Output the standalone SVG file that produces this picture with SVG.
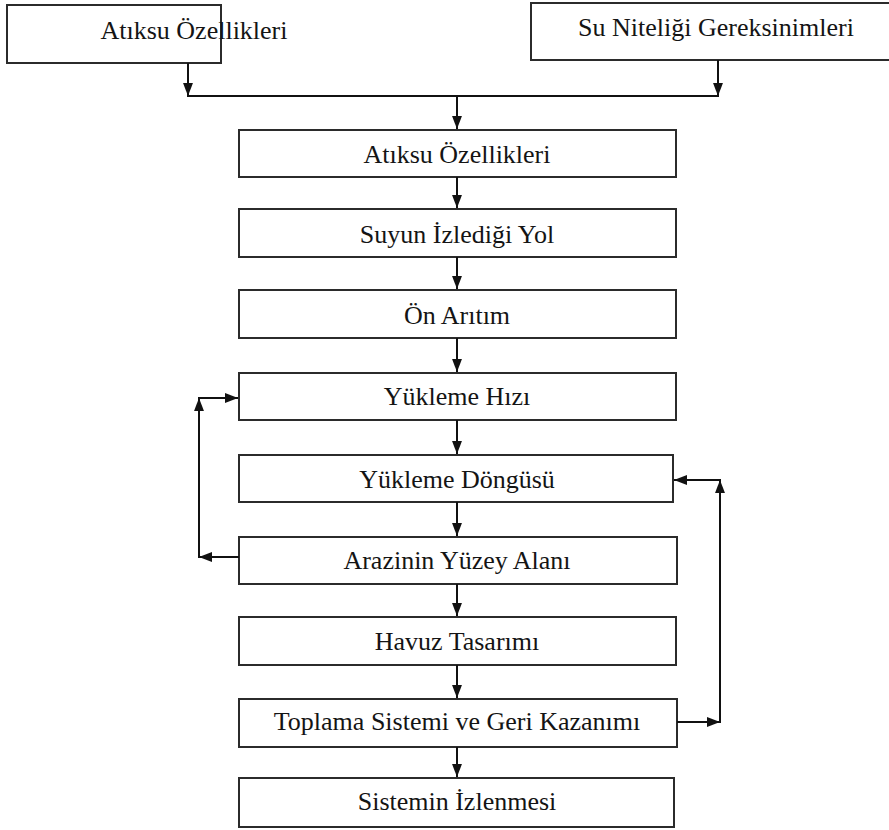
<svg xmlns="http://www.w3.org/2000/svg" width="889" height="830" viewBox="0 0 889 830">
<style>
.box{fill:#fff;stroke:#2b2b2b;stroke-width:2}
.lbl{font-family:"Liberation Serif","Times New Roman",serif;font-size:26px;fill:#141414;text-anchor:middle;dominant-baseline:central}
.ln{fill:none;stroke:#111;stroke-width:2}
</style>
<defs>
<marker id="ah" viewBox="0 0 10 10" refX="10" refY="5" markerWidth="13" markerHeight="13" markerUnits="userSpaceOnUse" orient="auto">
<path d="M0,1.2 L10,5 L0,8.8 Z" fill="#111"/>
</marker>
</defs>
<rect width="889" height="830" fill="#fff"/>
<g id="n_top_left"><rect class="box" x="7" y="5" width="214" height="58"/><text class="lbl" x="194" y="30">Atıksu Özellikleri</text></g>
<g id="n_top_right"><rect class="box" x="531" y="3" width="360" height="57"/><text class="lbl" x="716" y="27">Su Niteliği Gereksinimleri</text></g>
<g id="n1"><rect class="box" x="239" y="130" width="437" height="47"/><text class="lbl" x="457" y="154">Atıksu Özellikleri</text></g>
<g id="n2"><rect class="box" x="239" y="209" width="437" height="48"/><text class="lbl" x="457" y="234">Suyun İzlediği Yol</text></g>
<g id="n3"><rect class="box" x="239" y="290" width="437" height="48"/><text class="lbl" x="457" y="315">Ön Arıtım</text></g>
<g id="n4"><rect class="box" x="239" y="373" width="437" height="47"/><text class="lbl" x="457" y="396">Yükleme Hızı</text></g>
<g id="n5"><rect class="box" x="239" y="455" width="434" height="47"/><text class="lbl" x="457" y="479">Yükleme Döngüsü</text></g>
<g id="n6"><rect class="box" x="239" y="537" width="438" height="47"/><text class="lbl" x="457" y="560">Arazinin Yüzey Alanı</text></g>
<g id="n7"><rect class="box" x="239" y="617" width="437" height="48"/><text class="lbl" x="457" y="641">Havuz Tasarımı</text></g>
<g id="n8"><rect class="box" x="239" y="699" width="438" height="48"/><text class="lbl" x="457" y="721">Toplama Sistemi ve Geri Kazanımı</text></g>
<g id="n9"><rect class="box" x="239" y="778" width="435" height="49"/><text class="lbl" x="457" y="801">Sistemin İzlenmesi</text></g>
<g id="connectors">
<line class="ln" x1="188" y1="63" x2="188" y2="96" marker-end="url(#ah)"/>
<line class="ln" x1="718" y1="60" x2="718" y2="96" marker-end="url(#ah)"/>
<line class="ln" x1="187" y1="96" x2="719" y2="96"/>
<line class="ln" x1="457" y1="96" x2="457" y2="129" marker-end="url(#ah)"/>
<line class="ln" x1="457" y1="177" x2="457" y2="208" marker-end="url(#ah)"/>
<line class="ln" x1="457" y1="257" x2="457" y2="289" marker-end="url(#ah)"/>
<line class="ln" x1="457" y1="338" x2="457" y2="372" marker-end="url(#ah)"/>
<line class="ln" x1="457" y1="420" x2="457" y2="454" marker-end="url(#ah)"/>
<line class="ln" x1="457" y1="502" x2="457" y2="536" marker-end="url(#ah)"/>
<line class="ln" x1="457" y1="584" x2="457" y2="616" marker-end="url(#ah)"/>
<line class="ln" x1="457" y1="665" x2="457" y2="698" marker-end="url(#ah)"/>
<line class="ln" x1="457" y1="747" x2="457" y2="777" marker-end="url(#ah)"/>
<line class="ln" x1="239" y1="557" x2="199" y2="557" marker-end="url(#ah)"/>
<line class="ln" x1="199" y1="558" x2="199" y2="398" marker-end="url(#ah)"/>
<line class="ln" x1="198" y1="398" x2="238" y2="398" marker-end="url(#ah)"/>
<line class="ln" x1="677" y1="722" x2="720" y2="722" marker-end="url(#ah)"/>
<line class="ln" x1="720" y1="723" x2="720" y2="480" marker-end="url(#ah)"/>
<line class="ln" x1="721" y1="480" x2="674" y2="480" marker-end="url(#ah)"/>
</g>
</svg>
